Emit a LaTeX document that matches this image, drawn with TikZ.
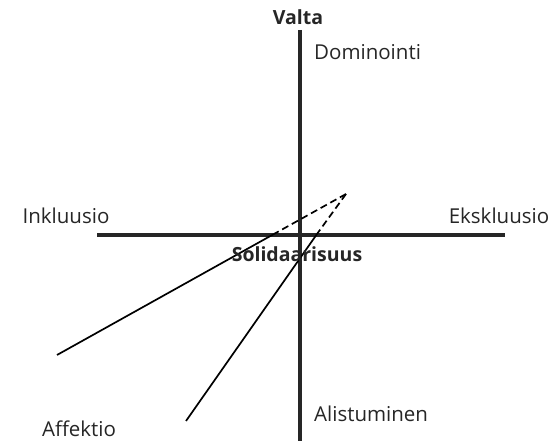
\documentclass[tikz,border=0pt]{standalone}
\usepackage{fontspec}
\setmainfont{Open Sans}
\begin{document}
\begin{tikzpicture}[x=1pt,y=-1pt,
  axis/.style={line width=3.8pt,draw=black!85},
  ray/.style={line width=1.7pt},
  lbl/.style={font=\fontsize{20.5}{22}\selectfont,text=black!85,inner sep=0pt},
  blbl/.style={lbl,font=\fontsize{19.5}{22}\selectfont\bfseries}]
\useasboundingbox (0,0) rectangle (558,443);
% axes
\coordinate (vt) at (300,30);
\coordinate (vb) at (300,441);
\coordinate (hl) at (97,235);
\coordinate (hr) at (505,235);
\draw[axis] (vt) -- (vb);
\draw[axis] (hl) -- (hr);
% rays
\coordinate (apex) at (346,194);
\coordinate (m1) at (274,234);
\coordinate (e1) at (57,355);
\coordinate (m2) at (317,234);
\coordinate (e2) at (186,421);
\draw[ray,dashed,dash pattern=on 7pt off 4pt] (apex) -- (m1);
\draw[ray] (m1) -- (e1);
\draw[ray,dashed,dash pattern=on 7pt off 4pt] (apex) -- (m2);
\draw[ray] (m2) -- (e2);
% labels
\node[blbl] (valta) at (298,17) {Valta};
\node[lbl,anchor=west] (dom) at (314,52) {Dominointi};
\node[lbl] (ink) at (66,216) {Inkluusio};
\node[lbl] (eks) at (499,216) {Ekskluusio};
\node[blbl] (sol) at (297,254) {Solidaarisuus};
\node[lbl,anchor=west] (ali) at (314,414) {Alistuminen};
\node[lbl] (aff) at (79,429) {Affektio};
\end{tikzpicture}
\end{document}
